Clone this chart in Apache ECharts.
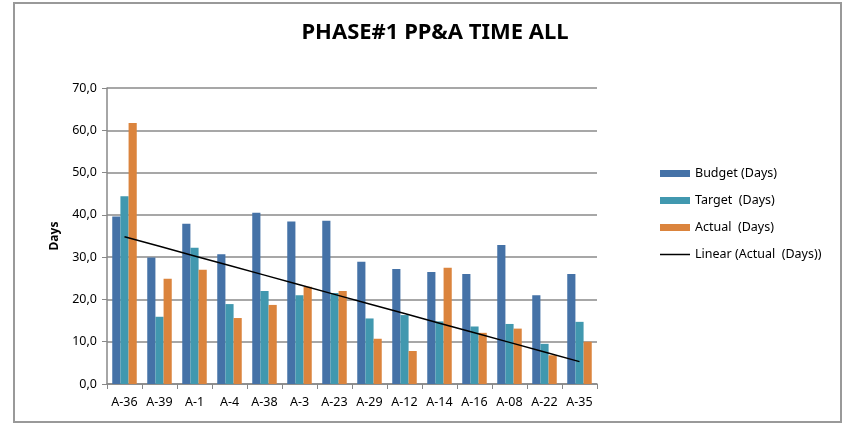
<!DOCTYPE html>
<html>
<head>
<meta charset="utf-8">
<script src="https://cdn.jsdelivr.net/npm/echarts@6/dist/echarts.min.js"></script>
<style>
  html, body { margin: 0; padding: 0; background: #fff; }
  #chart { width: 848px; height: 425px; }
</style>
</head>
<body>
<div id="chart"></div>
<script>
  // data
  const categories = ['A-36', 'A-39', 'A-1', 'A-4', 'A-38', 'A-3', 'A-23', 'A-29', 'A-12', 'A-14', 'A-16', 'A-08', 'A-22', 'A-35']
  const budget = [39.6, 29.9, 37.9, 30.7, 40.5, 38.4, 38.6, 28.9, 27.2, 26.5, 26.0, 32.9, 21.0, 26.0]
  const target = [44.4, 15.9, 32.2, 18.9, 22.0, 21.0, 21.5, 15.5, 16.3, 14.8, 13.6, 14.2, 9.5, 14.7]
  const actual = [61.7, 24.9, 27.0, 15.6, 18.7, 23.0, 22.0, 10.7, 7.8, 27.5, 12.1, 13.1, 6.8, 10.0]
  const yTicks = [0, 10, 20, 30, 40, 50, 60, 70]

  // least squares trend of actual values (Excel "Linear" trendline)
  function linearTrend(ys) {
    const n = ys.length
    let sx = 0, sy = 0, sxx = 0, sxy = 0
    ys.forEach((y, i) => {
      const x = i + 1
      sx += x; sy += y; sxx += x * x; sxy += x * y
    })
    const slope = (n * sxy - sx * sy) / (n * sxx - sx * sx)
    const icpt = (sy - slope * sx) / n
    return ys.map((_, i) => +(icpt + slope * (i + 1)).toFixed(3))
  }
  const trend = linearTrend(actual)

  const font = 'Noto Sans'
  const chart = echarts.init(document.getElementById('chart'))
  chart.setOption({
    animation: false,
    textStyle: { fontFamily: font },
    title: {
      text: 'PHASE#1 PP&A TIME ALL',
      left: 430,
      top: 17,
      textAlign: 'center',
      textStyle: { fontFamily: font, fontSize: 22, fontWeight: 'bold', color: '#000' }
    },
    graphic: [{
      type: 'rect',
      shape: { x: 14, y: 3, width: 827, height: 419 },
      style: { fill: 'none', stroke: '#999', lineWidth: 2 },
      silent: true
    }],
    legend: {
      orient: 'vertical',
      left: 655,
      top: 162,
      itemWidth: 30,
      itemHeight: 7,
      itemGap: 14,
      textStyle: { fontFamily: font, fontSize: 12.5, color: '#000' },
      data: [
        { name: 'Budget (Days)', icon: 'rect' },
        { name: 'Target  (Days)', icon: 'rect' },
        { name: 'Actual  (Days)', icon: 'rect' },
        { name: 'Linear (Actual  (Days))', icon: 'path://M0,0 L30,0 L30,1.5 L0,1.5 Z' }
      ]
    },
    grid: { left: 107, right: 251, top: 88, bottom: 41 },
    xAxis: {
      type: 'category',
      data: categories,
      axisLine: { lineStyle: { color: '#888', width: 1.5 } },
      axisTick: { show: true, length: 5, lineStyle: { color: '#888' } },
      axisLabel: { color: '#000', fontSize: 12.5, margin: 12, interval: 0 }
    },
    yAxis: {
      type: 'value',
      min: 0,
      max: yTicks[yTicks.length - 1],
      interval: 10,
      name: 'Days',
      nameLocation: 'middle',
      nameGap: 46,
      nameRotate: 90,
      nameTextStyle: { fontSize: 12, fontWeight: 'bold', color: '#000' },
      axisLine: { show: true, lineStyle: { color: '#888', width: 1.5 } },
      axisTick: { show: true, inside: false, length: 5, lineStyle: { color: '#888' } },
      axisLabel: {
        color: '#000',
        fontSize: 12.5,
        margin: 10,
        formatter: v => v.toFixed(1).replace('.', ',')
      },
      splitLine: { lineStyle: { color: '#8a8a8a', width: 1.5 } }
    },
    series: [
      {
        name: 'Budget (Days)',
        type: 'bar',
        data: budget,
        barGap: '0%',
        barCategoryGap: '30%',
        itemStyle: { color: '#4572a7' }
      },
      {
        name: 'Target  (Days)',
        type: 'bar',
        data: target,
        itemStyle: { color: '#4198af' }
      },
      {
        name: 'Actual  (Days)',
        type: 'bar',
        data: actual,
        itemStyle: { color: '#db843d' }
      },
      {
        name: 'Linear (Actual  (Days))',
        type: 'line',
        data: trend,
        symbol: 'none',
        z: 5,
        itemStyle: { color: '#000' },
        lineStyle: { color: '#000', width: 1.5 }
      }
    ]
  })
</script>
</body>
</html>
